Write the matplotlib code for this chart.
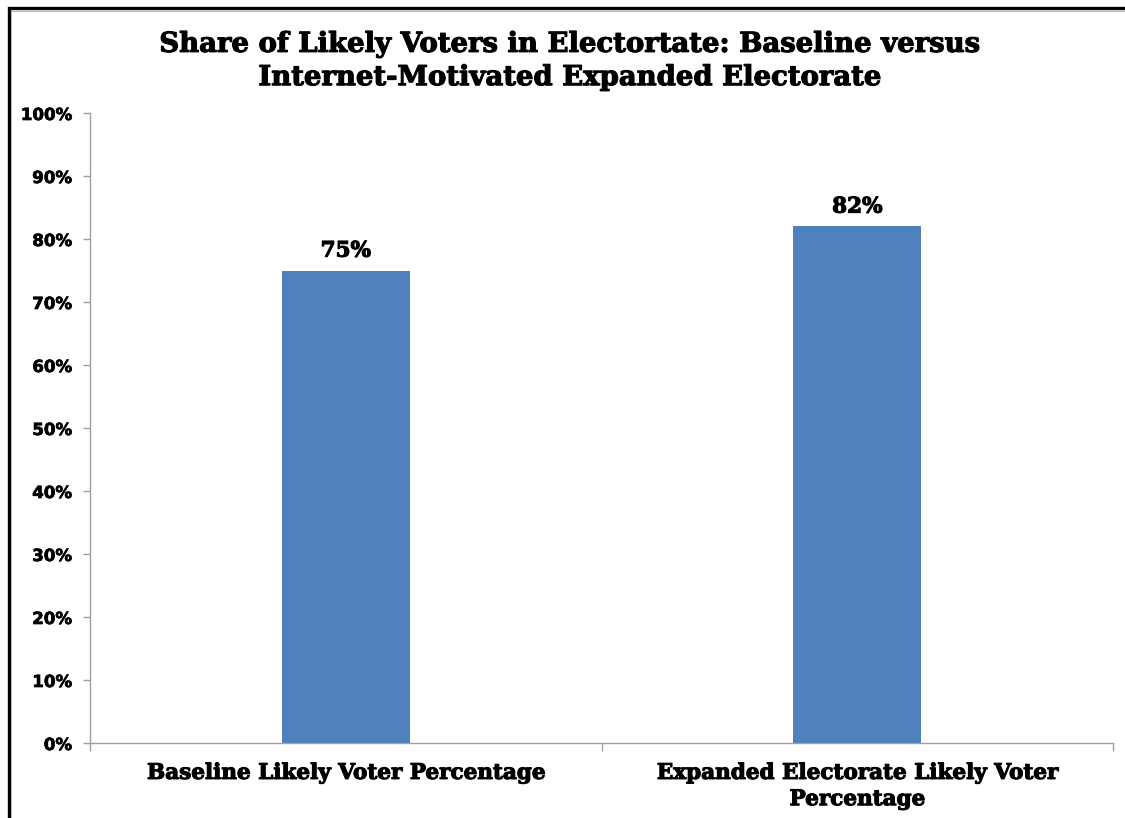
import matplotlib.pyplot as plt
import matplotlib.patheffects as pe
from matplotlib.patches import Rectangle
from matplotlib.ticker import FixedLocator, PercentFormatter

categories = ["Baseline Likely Voter Percentage",
              "Expanded Electorate Likely Voter\nPercentage"]
shares = [75, 82]
yticks = [0, 10, 20, 30, 40, 50, 60, 70, 80, 90, 100]
title = ("Share of Likely Voters in Electortate: Baseline versus\n"
         "Internet-Motivated Expanded Electorate")

W, H = 1125, 818
fig = plt.figure(figsize=(W / 100, H / 100), dpi=100)
fig.patch.set_facecolor("white")

# outer chart frame: thick black edge with a thin grey inner line
fig.add_artist(Rectangle((8.5 / W, -0.05), 1.2, 1.05 - 8.5 / H,
                         transform=fig.transFigure, fill=False,
                         edgecolor="black", linewidth=2.4, clip_on=False))
fig.add_artist(Rectangle((11 / W, -0.05), 1.2, 1.05 - 11 / H,
                         transform=fig.transFigure, fill=False,
                         edgecolor="#b8b8b8", linewidth=0.8, clip_on=False))

# heavier strokes for the bold serif texts
heavy = [pe.withStroke(linewidth=0.8, foreground="black")]
heavy_small = [pe.withStroke(linewidth=0.5, foreground="black")]

left, right = 90 / W, 1113 / W
bottom, top = 1 - 743 / H, 1 - 113 / H
ax = fig.add_axes([left, bottom, right - left, top - bottom])

x = list(range(len(categories)))
ax.bar(x, shares, width=0.25, color="#4F81BD", zorder=2)

ax.set_xlim(-0.5, len(categories) - 0.5)
ax.set_ylim(0, 100)

serif = "DejaVu Serif"
for xi, v in zip(x, shares):
    ax.text(xi, v + 1.4, f"{v}%", ha="center", va="bottom",
            fontsize=15.5, fontweight="bold", family=serif, color="black",
            path_effects=heavy)

# y axis
ax.yaxis.set_major_locator(FixedLocator(yticks))
ax.yaxis.set_major_formatter(PercentFormatter(decimals=0))
ax.tick_params(axis="y", length=5, width=1, color="#a0a0a0", pad=8,
               labelsize=12)
for lbl in ax.get_yticklabels():
    lbl.set_fontweight("bold")
    lbl.set_family("DejaVu Sans")
    lbl.set_path_effects(heavy_small)

# x axis: category labels between boundary ticks
ax.set_xticks([i - 0.5 for i in range(len(categories) + 1)])
ax.set_xticklabels([""] * (len(categories) + 1))
ax.tick_params(axis="x", length=6, width=1, color="#a0a0a0")
for xi, name in zip(x, categories):
    ax.text(xi, -3.0, name, ha="center", va="top", fontsize=15.5,
            fontweight="bold", family=serif, linespacing=1.25,
            path_effects=heavy)

for side in ["top", "right"]:
    ax.spines[side].set_visible(False)
for side in ["left", "bottom"]:
    ax.spines[side].set_color("#a0a0a0")
    ax.spines[side].set_linewidth(1)

fig.text(570 / W, 1 - 61 / H, title, ha="center", va="center",
         fontsize=19.8, fontweight="bold", family=serif, linespacing=1.3,
         path_effects=heavy)

fig.savefig("out.png", dpi=100)
